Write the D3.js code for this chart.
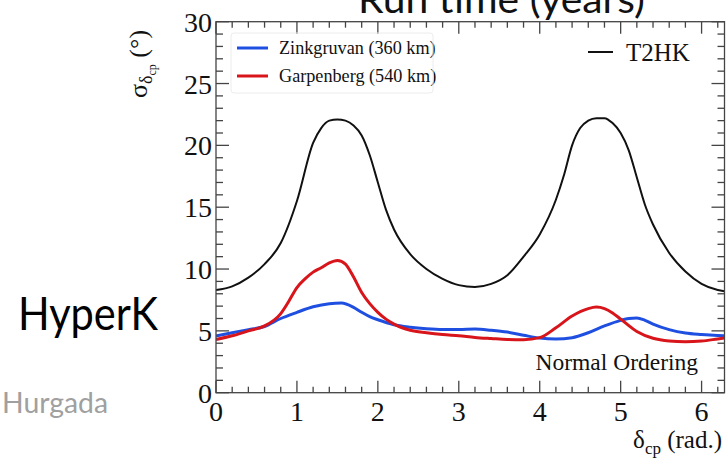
<!DOCTYPE html>
<html>
<head>
<meta charset="utf-8">
<script src="https://cdn.jsdelivr.net/npm/d3@7"></script>
<style>
  html, body { margin: 0; padding: 0; background: #fff; }
  svg { display: block; }
  .rootfont { font-family: "Liberation Serif", "Times New Roman", Times, serif; }
  .slidefont { font-family: Lato, "Open Sans", sans-serif; }
</style>
</head>
<body>
<svg id="chart" width="727" height="469"></svg>
<script>
// δCP sensitivity curves: σ(δCP) in degrees versus δCP in radians
const t2hkDelta = [0.0, 0.2, 0.4, 0.6, 0.8, 1.0, 1.2, 1.3, 1.4, 1.5, 1.6, 1.7, 1.8, 1.9, 2.0, 2.1, 2.2, 2.4, 2.6, 2.8, 3.0, 3.2, 3.4, 3.6, 3.8, 4.0, 4.2, 4.3, 4.4, 4.5, 4.6, 4.7, 4.8, 4.9, 5.0, 5.1, 5.2, 5.3, 5.4, 5.6, 5.8, 6.0, 6.2, 6.28];
const t2hkSigma = [8.3, 8.6, 9.3, 10.4, 12.1, 15.5, 20.2, 21.4, 22.0, 22.1, 22.0, 21.6, 20.8, 19.2, 17.0, 14.8, 13.2, 11.2, 10.0, 9.2, 8.7, 8.55, 8.8, 9.5, 11.0, 12.8, 15.6, 17.6, 20.0, 21.4, 22.0, 22.2, 22.2, 21.8, 21.0, 19.6, 17.4, 15.2, 13.6, 11.3, 9.8, 8.8, 8.3, 8.2];

const garpDelta = [0.0, 0.2, 0.4, 0.6, 0.8, 0.9, 1.0, 1.1, 1.2, 1.3, 1.4, 1.5, 1.6, 1.7, 1.8, 1.9, 2.0, 2.1, 2.2, 2.3, 2.4, 2.6, 2.8, 3.0, 3.2, 3.4, 3.6, 3.8, 4.0, 4.2, 4.4, 4.6, 4.7, 4.8, 4.9, 5.0, 5.2, 5.4, 5.6, 5.8, 6.0, 6.2, 6.28];
const garpSigma = [4.3, 4.6, 5.0, 5.4, 6.4, 7.4, 8.5, 9.2, 9.75, 10.1, 10.5, 10.7, 10.4, 9.35, 8.1, 7.2, 6.5, 5.95, 5.55, 5.25, 5.05, 4.85, 4.7, 4.6, 4.47, 4.38, 4.3, 4.28, 4.45, 5.25, 6.2, 6.8, 6.92, 6.8, 6.45, 5.95, 4.95, 4.4, 4.18, 4.12, 4.18, 4.35, 4.42];

const zinkDelta = [0.0, 0.2, 0.4, 0.6, 0.8, 1.0, 1.2, 1.4, 1.55, 1.7, 1.8, 1.9, 2.0, 2.2, 2.4, 2.6, 2.8, 3.0, 3.2, 3.4, 3.6, 3.8, 4.0, 4.2, 4.4, 4.6, 4.8, 5.0, 5.1, 5.2, 5.3, 5.4, 5.6, 5.8, 6.0, 6.2, 6.28];
const zinkSigma = [4.58, 4.85, 5.1, 5.35, 6.0, 6.5, 6.95, 7.2, 7.25, 6.9, 6.5, 6.15, 5.9, 5.5, 5.3, 5.18, 5.12, 5.12, 5.15, 5.05, 4.9, 4.65, 4.42, 4.35, 4.45, 4.85, 5.4, 5.85, 6.0, 6.04, 5.85, 5.55, 5.1, 4.82, 4.7, 4.62, 4.6];

const xTicks = [0, 1, 2, 3, 4, 5, 6];
const yTicks = [0, 5, 10, 15, 20, 25, 30];
const legendNames = ["Zinkgruvan (360 km)", "Garpenberg (540 km)"];
const legendColors = ["#1f4fe0", "#d8151b"];

const svg = d3.select("#chart");

const plotLeft = 216, plotRight = 724.5, plotTop = 21.7, plotBottom = 392.7;
const x = d3.scaleLinear().domain([0, 2 * Math.PI]).range([plotLeft, plotRight]);
const y = d3.scaleLinear().domain([0, 30]).range([plotBottom, plotTop]);

svg.append("rect").attr("width", 727).attr("height", 469).attr("fill", "#fff");

// slide text around the plot
const slide = svg.append("g").attr("class", "slidefont");
slide.append("text").attr("x", 358).attr("y", 13)
  .attr("textLength", 287).attr("lengthAdjust", "spacingAndGlyphs")
  .attr("font-size", 38).attr("fill", "#111")
  .text("Run time (years)");
slide.append("text").attr("x", 18).attr("y", 330)
  .attr("textLength", 140).attr("lengthAdjust", "spacingAndGlyphs")
  .attr("font-size", 46).attr("fill", "#000")
  .text("HyperK");
slide.append("text").attr("x", 2).attr("y", 413)
  .attr("textLength", 106).attr("lengthAdjust", "spacingAndGlyphs")
  .attr("font-size", 28).attr("fill", "#a0a0a0")
  .text("Hurgada");

// curves
svg.append("clipPath").attr("id", "plotclip")
  .append("rect").attr("x", plotLeft).attr("y", plotTop)
  .attr("width", plotRight - plotLeft).attr("height", plotBottom - plotTop);
const line = d3.line().x(d => x(d[0])).y(d => y(d[1])).curve(d3.curveMonotoneX);
const plot = svg.append("g").attr("clip-path", "url(#plotclip)");

plot.append("path").datum(d3.zip(t2hkDelta, t2hkSigma))
  .attr("d", line).attr("fill", "none").attr("stroke", "#111").attr("stroke-width", 2);
plot.append("path").datum(d3.zip(zinkDelta, zinkSigma))
  .attr("d", line).attr("fill", "none").attr("stroke", legendColors[0]).attr("stroke-width", 3);
plot.append("path").datum(d3.zip(garpDelta, garpSigma))
  .attr("d", line).attr("fill", "none").attr("stroke", legendColors[1]).attr("stroke-width", 3);

// frame with ROOT-style ticks on all four sides
const axisG = svg.append("g").attr("stroke", "#444").attr("stroke-width", 1.3);
d3.range(0, 31, 1).forEach(v => {
  const len = v % 5 === 0 ? 13 : 7;
  axisG.append("line").attr("x1", plotLeft).attr("x2", plotLeft + len).attr("y1", y(v)).attr("y2", y(v));
  axisG.append("line").attr("x1", plotRight).attr("x2", plotRight - len).attr("y1", y(v)).attr("y2", y(v));
});
d3.range(0, 6.21, 0.2).map(v => Math.round(v * 10) / 10).forEach(v => {
  const len = Math.abs(v - Math.round(v)) < 1e-6 ? 12 : 6;
  axisG.append("line").attr("x1", x(v)).attr("x2", x(v)).attr("y1", plotBottom).attr("y2", plotBottom - len);
  axisG.append("line").attr("x1", x(v)).attr("x2", x(v)).attr("y1", plotTop).attr("y2", plotTop + len);
});
axisG.append("rect").attr("x", plotLeft).attr("y", plotTop)
  .attr("width", plotRight - plotLeft).attr("height", plotBottom - plotTop)
  .attr("fill", "none");

const rootText = svg.append("g").attr("class", "rootfont").attr("fill", "#111");

// tick labels
rootText.append("g").selectAll("text").data(yTicks).join("text")
  .attr("x", plotLeft - 4).attr("y", d => y(d)).attr("dy", "0.36em")
  .attr("text-anchor", "end").attr("font-size", 28)
  .text(d => d);
rootText.append("g").selectAll("text").data(xTicks).join("text")
  .attr("x", d => x(d)).attr("y", 421)
  .attr("text-anchor", "middle").attr("font-size", 28)
  .text(d => d);

// axis titles
const xt = rootText.append("text").attr("x", 722).attr("y", 448).attr("text-anchor", "end")
  .attr("font-size", 25);
xt.append("tspan").text("δ");
xt.append("tspan").attr("dy", 6).attr("font-size", 17).text("cp");
xt.append("tspan").attr("dy", -6).text(" (rad.)");

const yt = rootText.append("text").attr("transform", "translate(147,98) rotate(-90)")
  .attr("font-size", 26);
yt.append("tspan").text("σ");
yt.append("tspan").attr("dy", 5).attr("font-size", 18).text("δ");
yt.append("tspan").attr("dy", 4).attr("font-size", 12).text("cp");
yt.append("tspan").attr("dy", -9).text(" (°)");

// legends
svg.append("rect").attr("x", 231).attr("y", 33).attr("width", 202).attr("height", 60).attr("rx", 3)
  .attr("fill", "none").attr("stroke", "#ececec");
legendNames.forEach((name, i) => {
  const ly = 48 + i * 28;
  svg.append("line").attr("x1", 237).attr("x2", 268).attr("y1", ly).attr("y2", ly)
    .attr("stroke", legendColors[i]).attr("stroke-width", 3);
  rootText.append("text").attr("x", 279).attr("y", ly).attr("dy", "0.35em")
    .attr("font-size", 18.2).text(name);
});
svg.append("line").attr("x1", 588).attr("x2", 613).attr("y1", 52).attr("y2", 52)
  .attr("stroke", "#111").attr("stroke-width", 2);
rootText.append("text").attr("x", 626).attr("y", 52).attr("dy", "0.35em")
  .attr("font-size", 25).text("T2HK");

rootText.append("text").attr("x", 698).attr("y", 370).attr("text-anchor", "end")
  .attr("font-size", 23.5).text("Normal Ordering");
</script>
</body>
</html>
